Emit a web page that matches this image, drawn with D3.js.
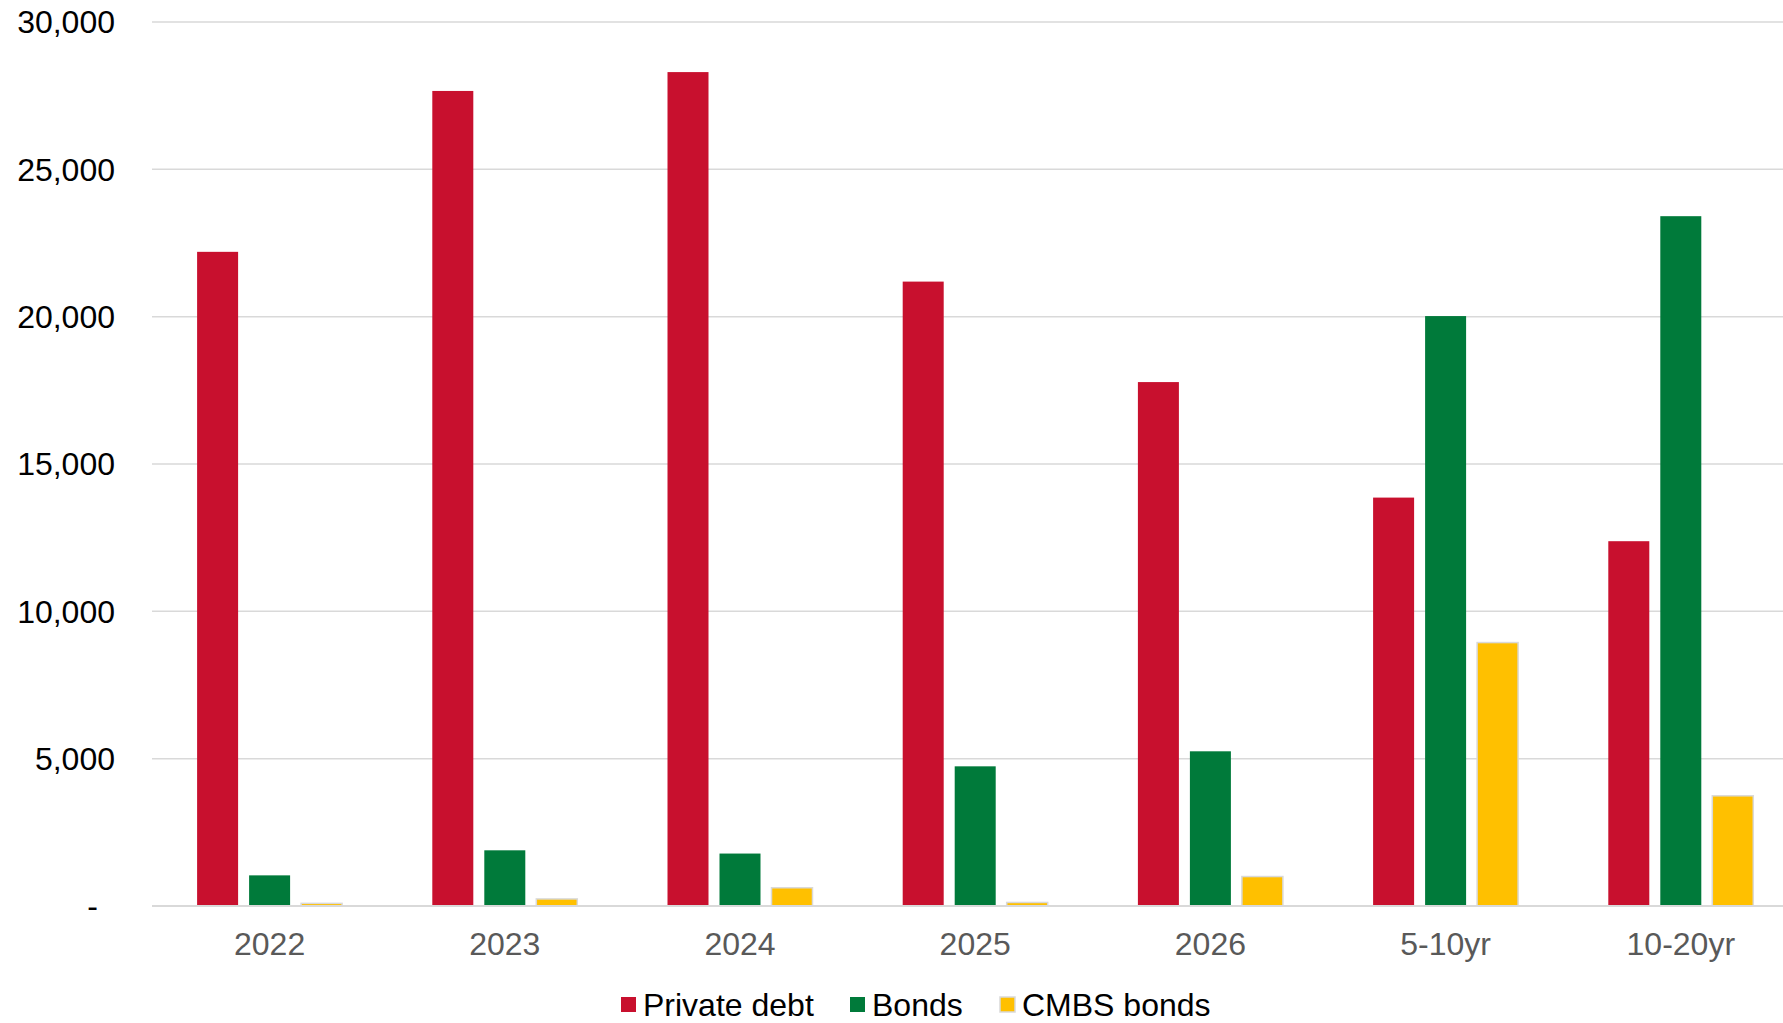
<!DOCTYPE html>
<html>
<head>
<meta charset="utf-8">
<script src="https://cdn.jsdelivr.net/npm/d3@7"></script>
<style>
  html, body { margin: 0; padding: 0; background: #ffffff; }
  svg { display: block; font-family: "Liberation Sans", Arial, sans-serif; }
</style>
</head>
<body>
<svg id="chart" width="1783" height="1023"></svg>
<script>
// Maturity buckets and amounts per funding source
const categories = ["2022", "2023", "2024", "2025", "2026", "5-10yr", "10-20yr"];
const seriesNames = ["Private debt", "Bonds", "CMBS bonds"];
const privateDebt = [22200, 27660, 28300, 21190, 17780, 13860, 12380];
const bonds = [1040, 1890, 1780, 4740, 5250, 20020, 23410];
const cmbsBonds = [90, 240, 620, 120, 1000, 8940, 3740];
const yTicks = [0, 5000, 10000, 15000, 20000, 25000, 30000];

const seriesValues = [privateDebt, bonds, cmbsBonds];
const colors = ["#C8102E", "#007A3A", "#FFC000"];

const width = 1783, height = 1023;
const margin = { top: 22, left: 152, bottom: 906 };
const bandWidth = 235.2;
const fontSize = 32;

const svg = d3.select("#chart");

const x = d3.scaleBand()
  .domain(categories)
  .range([margin.left, margin.left + bandWidth * categories.length])
  .padding(0);

const y = d3.scaleLinear()
  .domain([0, 30000])
  .range([margin.bottom, margin.top]);

const barW = 41, barStep = 52;

// Horizontal gridlines
svg.append("g")
  .selectAll("line")
  .data(yTicks.filter(d => d > 0))
  .join("line")
  .attr("x1", margin.left)
  .attr("x2", width)
  .attr("y1", d => y(d))
  .attr("y2", d => y(d))
  .attr("stroke", "#d9d9d9")
  .attr("stroke-width", 1.5);

// Y axis labels
const fmt = d3.format(",");
const yAxis = d3.axisLeft(y)
  .tickValues(yTicks)
  .tickSize(0)
  .tickPadding(0)
  .tickFormat(d => d === 0 ? "-" : fmt(d));

const yg = svg.append("g")
  .attr("transform", "translate(115,0)")
  .call(yAxis);
yg.select(".domain").remove();
yg.selectAll("text")
  .attr("font-size", fontSize)
  .attr("font-family", "Liberation Sans, Arial, sans-serif")
  .attr("fill", "#000000")
  .attr("dy", "0.34em")
  .attr("dx", d => d === 0 ? -17 : 0);

// Bars, one group per series
const groups = svg.append("g")
  .selectAll("g")
  .data(seriesNames.map((name, i) => ({ name, i, values: seriesValues[i] })))
  .join("g");

groups.selectAll("rect")
  .data(s => s.values.map((v, j) => ({ s, v, cat: categories[j] })))
  .join("rect")
  .attr("x", d => x(d.cat) + (x.bandwidth() - (barStep * 2 + barW)) / 2 + d.s.i * barStep)
  .attr("width", barW)
  .attr("y", d => y(d.v))
  .attr("height", d => y(0) - y(d.v))
  .attr("fill", d => colors[d.s.i])
  .attr("stroke", d => d.s.i === 2 ? "#d9d9d9" : "none")
  .attr("stroke-width", d => d.s.i === 2 ? 1.5 : 0);

// Baseline
svg.append("line")
  .attr("x1", margin.left)
  .attr("x2", width)
  .attr("y1", y(0))
  .attr("y2", y(0))
  .attr("stroke", "#d9d9d9")
  .attr("stroke-width", 2);

// X axis labels
const xAxis = d3.axisBottom(x).tickSize(0).tickPadding(0);
const xg = svg.append("g")
  .attr("transform", `translate(0,${y(0)})`)
  .call(xAxis);
xg.select(".domain").remove();
xg.selectAll("text")
  .attr("font-size", fontSize)
  .attr("font-family", "Liberation Sans, Arial, sans-serif")
  .attr("fill", "#595959")
  .attr("y", 38)
  .attr("dy", "0.34em");

// Legend
const legendItems = [
  { name: seriesNames[0], sx: 621, tx: 643 },
  { name: seriesNames[1], sx: 850, tx: 872 },
  { name: seriesNames[2], sx: 1000, tx: 1022 }
];
const legendY = 1005;
const lg = svg.append("g");
legendItems.forEach((d, i) => {
  lg.append("rect")
    .attr("x", d.sx)
    .attr("y", legendY - 8)
    .attr("width", 15)
    .attr("height", 15)
    .attr("fill", colors[i])
    .attr("stroke", i === 2 ? "#d9d9d9" : "none")
    .attr("stroke-width", i === 2 ? 1.5 : 0);
  lg.append("text")
    .attr("x", d.tx)
    .attr("y", legendY)
    .attr("dy", "0.34em")
    .attr("font-size", fontSize)
    .attr("fill", "#000000")
    .text(d.name);
});
</script>
</body>
</html>
